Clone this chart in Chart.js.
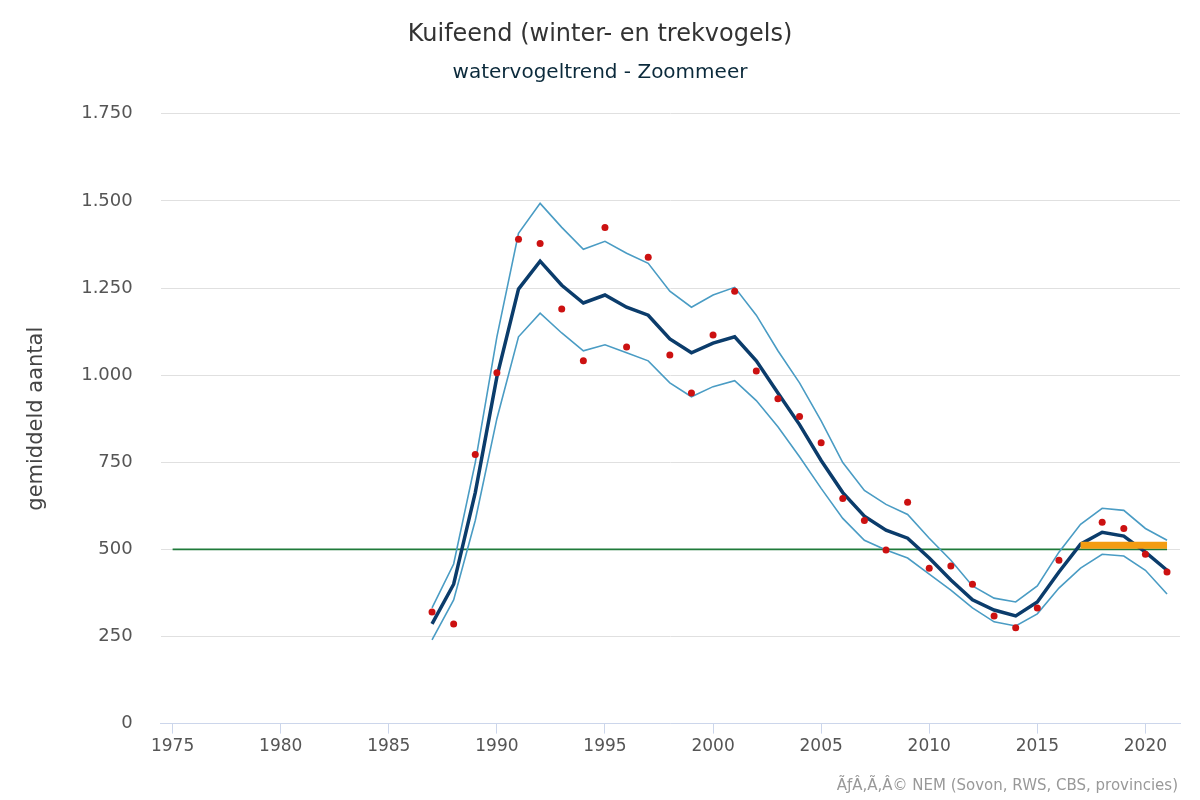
<!DOCTYPE html>
<html><head><meta charset="utf-8">
<script src="https://cdn.jsdelivr.net/npm/chart.js@4"></script>
<style>html,body{margin:0;background:#fff}#w{width:1200px;height:800px;position:relative}
#credit{position:absolute;right:22px;bottom:6px;font:15px "DejaVu Sans";color:#999}</style>
</head><body><div id="w"><canvas id="c" width="1200" height="800"></canvas><div id="credit">ÃƒÂ,Ã,Â© NEM (Sovon, RWS, CBS, provincies)</div></div>
<script>
const years = [1987,1988,1989,1990,1991,1992,1993,1994,1995,1996,1997,1998,1999,2000,2001,2002,2003,2004,2005,2006,2007,2008,2009,2010,2011,2012,2013,2014,2015,2016,2017,2018,2019,2020,2021];
const trend = [286,400,663,995,1247,1327,1258,1207,1230,1195,1172,1104,1064,1092,1110,1041,949,858,755,663,595,555,532,475,412,355,326,309,349,435,515,549,538,492,440];
const upper = [332,458,749,1110,1407,1493,1424,1361,1384,1350,1321,1241,1195,1230,1252,1172,1070,978,869,749,669,629,600,532,469,395,360,349,395,492,572,618,612,560,526];
const lower = [240,355,583,875,1110,1178,1121,1070,1087,1064,1041,978,938,967,984,927,852,766,675,589,526,498,475,429,383,332,292,280,315,389,446,486,481,440,372];
const countYears = [1987,1988,1989,1990,1991,1992,1993,1994,1995,1996,1997,1998,1999,2000,2001,2002,2003,2004,2005,2006,2007,2008,2009,2010,2011,2012,2013,2014,2015,2016,2018,2019,2020,2021];
const counts = [320,286,772,1007,1390,1378,1190,1041,1424,1081,1338,1058,949,1115,1241,1012,932,881,806,646,583,498,635,446,452,400,309,275,332,469,578,560,486,435];
const refYears = [1975,2021];
const refValue = 500;
const recentYears = [2017,2021];
const recentValue = 512;

const xy = (xs, ys) => xs.map((x,i)=>({x, y: ys[i]}));
const F = '"DejaVu Sans"';
new Chart(document.getElementById('c'), {
  type: 'line',
  data: { datasets: [
    {data: xy(recentYears, recentYears.map(()=>recentValue)), borderColor:'#f39c12', borderWidth:7, pointRadius:0, order:0},
    {data: xy(countYears, counts), showLine:false, pointRadius:3.5, pointBackgroundColor:'#cc1111', pointBorderWidth:0, order:1},
    {data: xy(years, trend), borderColor:'#0b3c6b', borderWidth:3.5, pointRadius:0, order:2},
    {data: xy(years, upper), borderColor:'#4a9cc4', borderWidth:1.6, pointRadius:0, order:3},
    {data: xy(years, lower), borderColor:'#4a9cc4', borderWidth:1.6, pointRadius:0, order:3},
    {data: xy(refYears, refYears.map(()=>refValue)), borderColor:'#1f7a3a', borderWidth:1.6, pointRadius:0, order:4},
  ]},
  options: {
    responsive:false, animation:false,
    layout:{padding:{left:20,right:20,top:0,bottom:40}},
    plugins:{legend:{display:false}, tooltip:{enabled:false},
      title:{display:true,text:'Kuifeend (winter- en trekvogels)',font:{family:F,size:24,weight:'normal'},color:'#333',padding:{top:20,bottom:12}},
      subtitle:{display:true,text:'watervogeltrend - Zoommeer',font:{family:F,size:20},color:'#0b2a3b',padding:{bottom:29}}},
    scales:{
      x:{type:'linear',min:1974.45,max:2021.6,
        afterBuildTicks:a=>{a.ticks=[1975,1980,1985,1990,1995,2000,2005,2010,2015,2020].map(v=>({value:v}));},
        ticks:{callback:v=>String(v),font:{family:F,size:17},color:'#555',maxRotation:0},
        grid:{display:true,drawOnChartArea:false,color:'#ccd6eb',tickLength:10},
        border:{color:'#ccd6eb'}},
      y:{min:0,max:1750,
        ticks:{stepSize:250,callback:v=>v.toLocaleString('de-DE'),font:{family:F,size:18},color:'#555',padding:28},
        grid:{color:'#e0e0e0',drawTicks:false},border:{display:false},
        title:{display:true,text:'gemiddeld aantal',font:{family:F,size:21},color:'#444'}}
    }
  }
});
</script></body></html>
